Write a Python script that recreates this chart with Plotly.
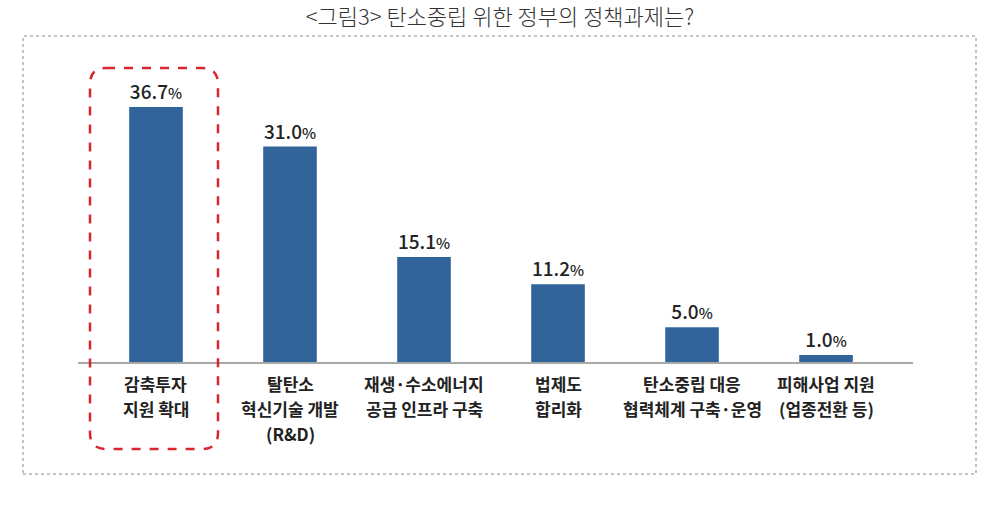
import plotly.graph_objects as go

title_text = "&lt;그림3&gt; 탄소중립 위한 정부의 정책과제는?"
categories = [
    "감축투자<br>지원 확대",
    "탈탄소<br>혁신기술 개발<br>(R&D)",
    "재생·수소에너지<br>공급 인프라 구축",
    "법제도<br>합리화",
    "탄소중립 대응<br>협력체계 구축·운영",
    "피해사업 지원<br>(업종전환 등)",
]
values = [36.7, 31.0, 15.1, 11.2, 5.0, 1.0]

W, H = 1000, 510
L, R, T, B = 78, 913, 84, 362  # plot area pixel box

def px_x(p):
    return (p - L) / (R - L)

def px_y(p):
    return (B - p) / (B - T)

labels = [f"{v:.1f}<span style='font-size:15px'>%</span>" for v in values]

fig = go.Figure()
fig.add_trace(go.Bar(
    x=list(range(len(values))),
    y=values,
    width=0.4,
    marker=dict(color="#31649B", line=dict(width=0)),
    text=labels,
    textposition="outside",
    textfont=dict(family="Noto Sans CJK KR", size=19, color="#222222", weight=500),
    cliponaxis=False,
    hoverinfo="skip",
))

# category labels, one annotation per line for the reference's wider line spacing
first_line_y, line_step = 383, 25
for i, cat in enumerate(categories):
    for j, line in enumerate(cat.split("<br>")):
        fig.add_annotation(
            x=i, xref="x", y=px_y(first_line_y + j * line_step), yref="paper",
            text=line, showarrow=False, xanchor="center", yanchor="middle",
            font=dict(family="Noto Sans CJK KR", size=17, color="#222222", weight="bold"),
        )

# dotted outer frame
x0, x1, y0, y1 = px_x(23), px_x(976), px_y(36), px_y(474)
fig.add_shape(type="rect", xref="paper", yref="paper", x0=x0, x1=x1, y0=y1, y1=y0,
              line=dict(color="#8a8a8a", width=1, dash="dot"), layer="below")

# red dashed rounded rectangle around first category
rx0, rx1, ry0, ry1 = 90, 218, 68, 449
r = 16
def P(x, y):
    return f"{px_x(x):.5f},{px_y(y):.5f}"
path = (f"M {P(rx0 + r, ry0)} L {P(rx1 - r, ry0)} Q {P(rx1, ry0)} {P(rx1, ry0 + r)} "
        f"L {P(rx1, ry1 - r)} Q {P(rx1, ry1)} {P(rx1 - r, ry1)} "
        f"L {P(rx0 + r, ry1)} Q {P(rx0, ry1)} {P(rx0, ry1 - r)} "
        f"L {P(rx0, ry0 + r)} Q {P(rx0, ry0)} {P(rx0 + r, ry0)} Z")
fig.add_shape(type="path", xref="paper", yref="paper", path=path,
              line=dict(color="#D7262F", width=2.5, dash="dash"))

fig.update_layout(
    width=W, height=H,
    margin=dict(l=L, r=W - R, t=T, b=H - B, pad=0),
    paper_bgcolor="white", plot_bgcolor="white",
    showlegend=False,
    title=dict(text=title_text, x=0.5, xanchor="center", y=1 - 17 / H, yanchor="middle",
               font=dict(family="Noto Sans CJK KR", size=22, color="#333333", weight=300)),
    xaxis=dict(
        range=[-0.582, 5.649],
        tickvals=list(range(len(categories))), showticklabels=False,
        showline=True, linecolor="#A8A8A8", linewidth=2,
        showgrid=False, zeroline=False, ticks="",
        fixedrange=True,
    ),
    yaxis=dict(range=[0, 40], visible=False, fixedrange=True),
    bargap=0.6,
)

fig.write_html("out.html")
